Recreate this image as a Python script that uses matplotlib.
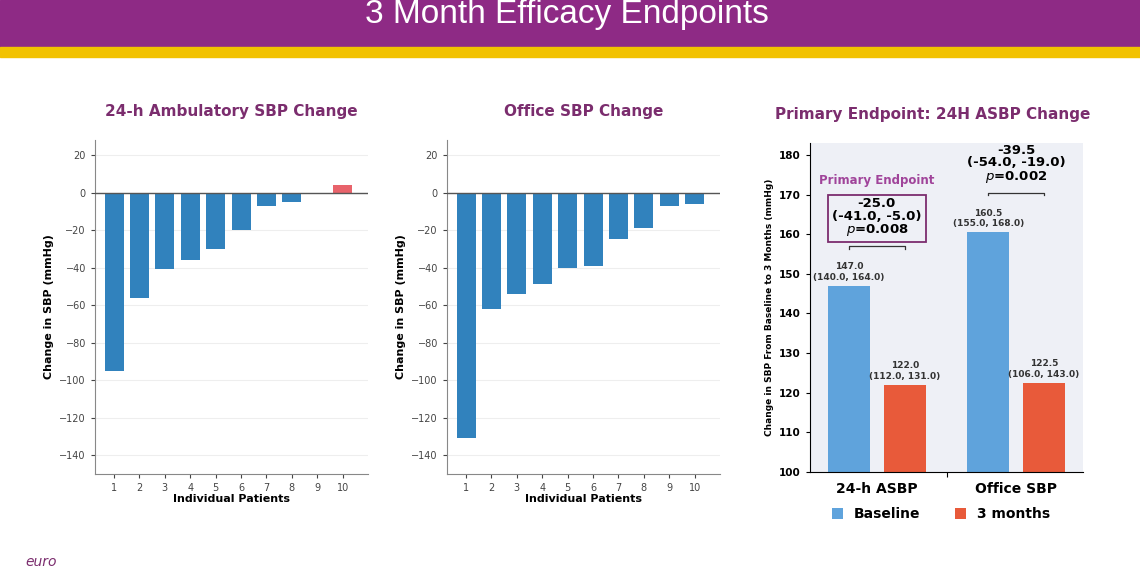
import matplotlib
matplotlib.use("Agg")
import matplotlib.pyplot as plt
from matplotlib.patches import Rectangle

patients = list(range(1, 11))
ambulatory_change = [-95, -56, -41, -36, -30, -20, -7, -5, 0, 4]
office_change = [-131, -62, -54, -49, -40, -39, -25, -19, -7, -6]
groups = ["24-h ASBP", "Office SBP"]
baseline = [147.0, 160.5]
baseline_ci = ["(140.0, 164.0)", "(155.0, 168.0)"]
month3 = [122.0, 122.5]
month3_ci = ["(112.0, 131.0)", "(106.0, 143.0)"]
diffs = ["-25.0\n(-41.0, -5.0)\n$\\it{p}$=0.008", "-39.5\n(-54.0, -19.0)\n$\\it{p}$=0.002"]

W, H = 1140, 570
fig = plt.figure(figsize=(W/100, H/100), dpi=100)
plt.rcParams['font.family'] = ['DejaVu Sans']

def ax_px(x0, y0, x1, y1):
    return fig.add_axes([x0/W, 1-y1/H, (x1-x0)/W, (y1-y0)/H])

# header
fig.patches.append(Rectangle((0, 1-47/H), 1, 47/H, transform=fig.transFigure, color="#8e2a85", zorder=0))
fig.patches.append(Rectangle((0, 1-57/H), 1, 10/H, transform=fig.transFigure, color="#f2c200", zorder=0))
fig.text(567/W, 1-14/H, "3 Month Efficacy Endpoints", color="white", fontsize=24, ha="center", va="center", family="Liberation Sans")
fig.text(25/W, 1-562/H, "euro", color="#7b2d6e", fontsize=10, style="italic", ha="left", va="center")

purple = "#7b2d6e"
blue = "#3182bd"
red = "#e8636b"

def waterfall(ax, vals, title):
    cols = [red if v > 0 else blue for v in vals]
    ax.bar(patients, vals, width=0.75, color=cols, zorder=3)
    ax.set_xlim(0.25, 11.0)
    ax.set_ylim(-150, 28)
    ax.set_yticks(range(-140, 21, 20))
    ax.set_xticks(patients)
    ax.axhline(0, color="#555555", lw=1, zorder=4)
    ax.grid(axis="y", color="#eeeeee", lw=0.8, zorder=0)
    for s in ["top", "right"]:
        ax.spines[s].set_visible(False)
    for s in ["left", "bottom"]:
        ax.spines[s].set_color("#888888")
    ax.tick_params(labelsize=7, colors="#444444", length=3)
    ax.set_xlabel("Individual Patients", fontsize=8, fontweight="bold", labelpad=1)
    ax.set_ylabel("Change in SBP (mmHg)", fontsize=8, fontweight="bold")
    ax.set_title(title, fontsize=11, fontweight="bold", color=purple, pad=17)

a1 = ax_px(95, 140, 368, 474)
waterfall(a1, ambulatory_change, "24-h Ambulatory SBP Change")
a2 = ax_px(447, 140, 720, 474)
waterfall(a2, office_change, "Office SBP Change")

a3 = ax_px(810, 143, 1083, 472)
a3.set_facecolor("#eef0f6")
bw = 0.3
xs = [0, 1]
xb = [x - 0.2 for x in xs]
xm = [x + 0.2 for x in xs]
a3.bar(xb, [b - 100 for b in baseline], bottom=100, width=bw, color="#5fa3dc", label="Baseline")
a3.bar(xm, [m - 100 for m in month3], bottom=100, width=bw, color="#e85a3a", label="3 months")
a3.set_ylim(100, 183)
a3.set_xlim(-0.48, 1.48)
a3.set_yticks(range(100, 181, 10))
a3.set_xticks([0.5], [""])
a3.tick_params(axis="y", labelsize=7.5, length=3)
for lab in a3.get_yticklabels():
    lab.set_fontweight("bold")
for s in ["top", "right"]:
    a3.spines[s].set_visible(False)
for i in range(2):
    a3.text(xb[i], baseline[i] + 1, f"{baseline[i]:.1f}\n{baseline_ci[i]}", ha="center", va="bottom", fontsize=6.5, fontweight="bold", color="#333333")
    a3.text(xm[i], month3[i] + 1, f"{month3[i]:.1f}\n{month3_ci[i]}", ha="center", va="bottom", fontsize=6.5, fontweight="bold", color="#333333")
    by = 157 if i == 0 else 170.5
    a3.plot([xb[i], xb[i], xm[i], xm[i]], [by - 0.7, by, by, by - 0.7], color="#333333", lw=0.9)
    a3.text(xs[i], by + 2, diffs[i], ha="center", va="bottom", fontsize=9.5, fontweight="bold", linespacing=0.95,
            bbox=dict(boxstyle="square,pad=0.3", fc="none", ec=purple, lw=1.3) if i == 0 else None)
a3.text(0, 173.5, "Primary Endpoint", ha="center", va="center", fontsize=8.5, fontweight="bold", color="#a0449a")
for i, g in enumerate(groups):
    a3.text(xs[i], 97.5, g, ha="center", va="top", fontsize=10, fontweight="bold")
a3.set_ylabel("Change in SBP From Baseline to 3 Months (mmHg)", fontsize=6.5, fontweight="bold")
a3.set_title("Primary Endpoint: 24H ASBP Change", fontsize=11, fontweight="bold", color=purple, pad=17, x=0.45)
a3.legend(loc="upper center", bbox_to_anchor=(0.48, -0.09), ncol=2, frameon=False,
          prop={"weight": "bold", "size": 10}, handlelength=0.8, handleheight=0.8, columnspacing=2.5, borderaxespad=0)

fig.savefig("out.png", dpi=100)
